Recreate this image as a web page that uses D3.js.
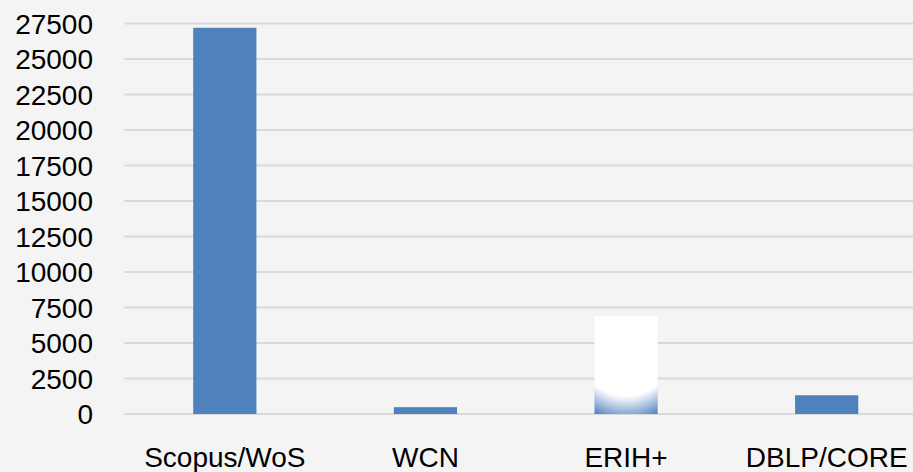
<!DOCTYPE html>
<html>
<head>
<meta charset="utf-8">
<script src="https://cdn.jsdelivr.net/npm/d3@7.9.0/dist/d3.min.js"></script>
<style>
  html, body { margin: 0; padding: 0; background: #f4f4f4; }
  svg { display: block; }
  text { font-family: "Liberation Sans", Arial, sans-serif; fill: #000; }
</style>
</head>
<body>
<svg id="chart" width="913" height="472"></svg>
<script>
// chart data
const categories = ['Scopus/WoS', 'WCN', 'ERIH+', 'DBLP/CORE'];
const counts = [27200, 480, 6900, 1320];
const yTicks = [0, 2500, 5000, 7500, 10000, 12500, 15000, 17500, 20000, 22500, 25000, 27500];

const width = 913;
const height = 472;

const svg = d3.select('#chart');

// scales (plot runs past the right edge, like the cropped original)
const x = d3.scaleBand().domain(categories).range([124.5, 927]);
const y = d3.scaleLinear().domain([0, 27500]).range([414, 23.5]);
const barWidth = x.bandwidth() * 0.315;

// gradient for the odd ERIH+ bar
const defs = svg.append('defs');
const grad = defs.append('radialGradient')
  .attr('id', 'erihFill')
  .attr('cx', 0.5).attr('cy', -0.27).attr('r', 1.36)
  .attr('fx', 0.5).attr('fy', -0.27);
grad.append('stop').attr('offset', '0%').attr('stop-color', '#ffffff');
grad.append('stop').attr('offset', '80%').attr('stop-color', '#ffffff');
grad.append('stop').attr('offset', '100%').attr('stop-color', '#4f81bd');

// gridlines
svg.append('g')
  .selectAll('line')
  .data(yTicks)
  .join('line')
  .attr('x1', 124.5)
  .attr('x2', width)
  .attr('y1', d => y(d))
  .attr('y2', d => y(d))
  .attr('stroke', '#d9d9d9')
  .attr('stroke-width', 2);

// y labels
svg.append('g')
  .selectAll('text')
  .data(yTicks)
  .join('text')
  .attr('x', 93)
  .attr('y', d => y(d))
  .attr('dy', '0.36em')
  .attr('text-anchor', 'end')
  .attr('font-size', 28)
  .text(d => d);

// bars
svg.append('g')
  .selectAll('rect')
  .data(categories)
  .join('rect')
  .attr('x', d => x(d) + x.bandwidth() / 2 - barWidth / 2)
  .attr('width', barWidth)
  .attr('y', (d, i) => y(counts[i]))
  .attr('height', (d, i) => y(0) - y(counts[i]))
  .attr('fill', d => d === 'ERIH+' ? 'url(#erihFill)' : '#4f81bd');

// x labels
svg.append('g')
  .selectAll('text')
  .data(categories)
  .join('text')
  .attr('x', d => x(d) + x.bandwidth() / 2)
  .attr('y', 467)
  .attr('text-anchor', 'middle')
  .attr('font-size', 28)
  .text(d => d);
</script>
</body>
</html>
